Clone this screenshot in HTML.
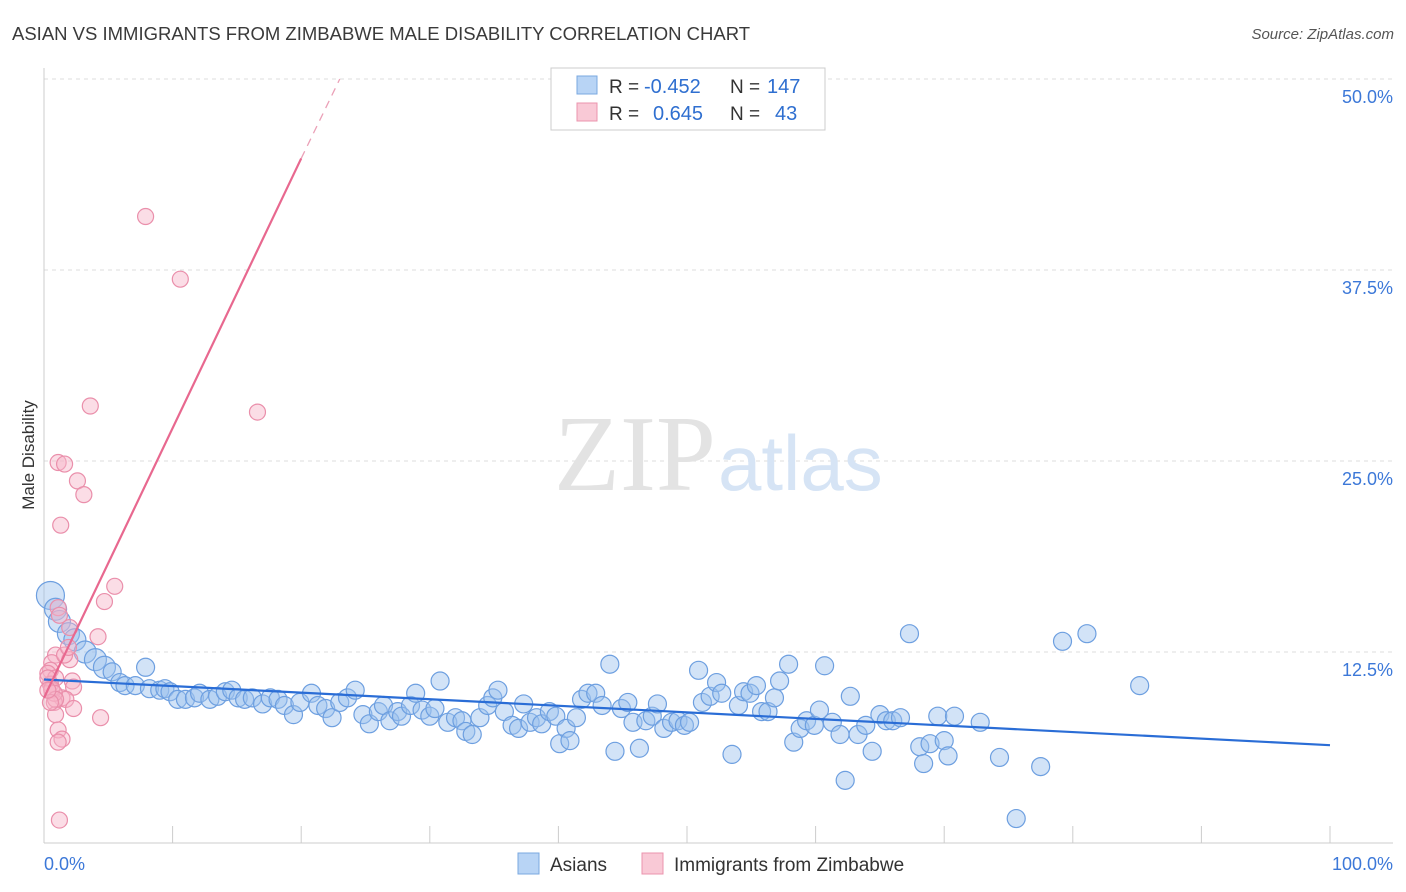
<!DOCTYPE html>
<html><head><meta charset="utf-8"><style>
body{margin:0;background:#fff;font-family:"Liberation Sans",sans-serif;}
svg{display:block}
</style></head><body>
<svg width="1406" height="892">
<text x="12" y="40" font-size="18.5" fill="#3a3a3a">ASIAN VS IMMIGRANTS FROM ZIMBABWE MALE DISABILITY CORRELATION CHART</text>
<text x="1394" y="39" font-size="15" fill="#555" font-style="italic" text-anchor="end">Source: ZipAtlas.com</text>
<g id="grid"></g>
<text x="716" y="490" font-size="108" fill="#e3e3e3" font-family="Liberation Serif,serif" text-anchor="end">ZIP</text>
<text x="718" y="490" font-size="78" fill="#d6e4f5">atlas</text>
<text x="34" y="455" font-size="17" fill="#333" transform="rotate(-90 34 455)" text-anchor="middle">Male Disability</text>
<g id="marks"></g>
<g>
<rect x="551" y="68" width="274" height="62" fill="#fff" stroke="#ccc"/>
<rect x="577" y="76" width="20" height="18" fill="#b8d4f5" stroke="#7aa8e0"/>
<rect x="577" y="103" width="20" height="18" fill="#f9c9d6" stroke="#eb94ae"/>
<text x="609" y="93" font-size="19" fill="#333">R =</text>
<text x="644" y="93" font-size="20" fill="#2f6fd0">-0.452</text>
<text x="730" y="93" font-size="19" fill="#333">N =</text>
<text x="767" y="93" font-size="20" fill="#2f6fd0">147</text>
<text x="609" y="120" font-size="19" fill="#333">R =</text>
<text x="653" y="120" font-size="20" fill="#2f6fd0">0.645</text>
<text x="730" y="120" font-size="19" fill="#333">N =</text>
<text x="775" y="120" font-size="20" fill="#2f6fd0">43</text>
</g>
<g>
<rect x="518" y="853" width="21" height="21" fill="#b8d4f5" stroke="#7aa8e0"/>
<text x="550" y="871" font-size="19" fill="#333">Asians</text>
<rect x="642" y="853" width="21" height="21" fill="#f9c9d6" stroke="#eb94ae"/>
<text x="674" y="871" font-size="19" fill="#333">Immigrants from Zimbabwe</text>
</g>
</svg>
<script>
const xTicks=[0,10,20,30,40,50,60,70,80,90,100];
const yTicks=[12.5,25,37.5,50];
const yTickLabels=["12.5%","25.0%","37.5%","50.0%"];
const asianPoints=[[0.5,16.2],[0.9,15.3],[1.2,14.5],[1.9,13.7],[2.4,13.3],[3.2,12.5],[4.0,12.0],[4.7,11.5],[5.3,11.2],[5.9,10.5],[6.3,10.3],[7.1,10.3],[7.9,11.5],[8.2,10.1],[9.0,10.0],[9.4,10.1],[9.8,9.9],[10.4,9.4],[11.0,9.4],[11.7,9.5],[12.1,9.8],[12.9,9.4],[13.5,9.6],[14.1,9.9],[14.6,10.0],[15.1,9.5],[15.6,9.4],[16.2,9.5],[17.0,9.1],[17.6,9.5],[18.2,9.4],[18.7,9.0],[19.4,8.4],[19.9,9.2],[20.8,9.8],[21.3,9.0],[21.9,8.8],[22.4,8.2],[23.0,9.2],[23.6,9.5],[24.2,10.0],[24.8,8.4],[25.3,7.8],[26.0,8.6],[26.4,9.0],[26.9,8.0],[27.5,8.6],[27.8,8.3],[28.5,9.0],[28.9,9.8],[29.4,8.7],[30.0,8.3],[30.4,8.8],[30.8,10.6],[31.4,7.9],[32.0,8.2],[32.5,8.0],[32.8,7.3],[33.3,7.1],[33.9,8.2],[34.5,9.0],[34.9,9.5],[35.3,10.0],[35.8,8.6],[36.4,7.7],[36.9,7.5],[37.3,9.1],[37.8,7.9],[38.3,8.2],[38.7,7.8],[39.3,8.6],[39.8,8.3],[40.1,6.5],[40.6,7.5],[40.9,6.7],[41.4,8.2],[41.8,9.4],[42.3,9.8],[42.9,9.8],[43.4,9.0],[44.0,11.7],[44.4,6.0],[44.9,8.8],[45.4,9.2],[45.8,7.9],[46.3,6.2],[46.8,8.0],[47.3,8.3],[47.7,9.1],[48.2,7.5],[48.8,7.9],[49.3,8.0],[49.8,7.7],[50.2,7.9],[50.9,11.3],[51.2,9.2],[51.8,9.6],[52.3,10.5],[52.7,9.8],[53.5,5.8],[54.0,9.0],[54.4,9.9],[54.9,9.8],[55.4,10.3],[55.8,8.6],[56.3,8.6],[56.8,9.5],[57.2,10.6],[57.9,11.7],[58.3,6.6],[58.8,7.5],[59.3,8.0],[59.9,7.7],[60.3,8.7],[60.7,11.6],[61.3,7.9],[61.9,7.1],[62.7,9.6],[63.3,7.1],[63.9,7.7],[64.4,6.0],[65.0,8.4],[65.5,8.0],[66.0,8.0],[66.6,8.2],[67.3,13.7],[68.1,6.3],[68.4,5.2],[68.9,6.5],[69.5,8.3],[70.0,6.7],[70.3,5.7],[70.8,8.3],[72.8,7.9],[74.3,5.6],[75.6,1.6],[77.5,5.0],[79.2,13.2],[81.1,13.7],[85.2,10.3],[62.3,4.1]];
const zimX=[7.9,10.6,3.6,16.6,1.1,1.6,2.6,3.1,1.3,5.5,4.7,1.1,1.2,4.2,2,0.9,0.6,0.5,0.3,0.9,0.5,0.6,2.2,2.3,1.4,1.7,0.8,0.9,2.3,4.4,1.1,1.4,1.2,0.3,0.6,2,1.6,0.8,0.9,1.1,0.5,0.3,1.9];
const zimY=[41,36.9,28.6,28.2,24.9,24.8,23.7,22.8,20.8,16.8,15.8,15.4,14.9,13.5,14.1,12.3,11.8,11.3,11.1,10.8,10.4,10,10.6,10.2,9.5,9.4,9.2,8.4,8.8,8.2,7.4,6.8,1.5,10.8,10.1,12,12.3,9.8,9.4,6.6,9.2,10,12.8];
const X=v=>44+v*12.86, Y=v=>843-v*15.28;
const NS="http://www.w3.org/2000/svg";
function mk(t,a,p){const e=document.createElementNS(NS,t);for(const k in a)e.setAttribute(k,a[k]);p.appendChild(e);return e;}
const gridG=document.getElementById('grid'), marksG=document.getElementById('marks');
yTicks.forEach((v,i)=>{
 const l=mk('line',{x1:44,x2:1393,y1:Y(v),y2:Y(v),stroke:'#ddd','stroke-dasharray':'4,4'},gridG);
 
 
 const t=mk('text',{x:1393,y:Y(v)+24,'font-size':18,fill:'#3c78d8','text-anchor':'end'},gridG);
 t.textContent=yTickLabels[i];
 
 
});
const ya=mk('line',{x1:44,x2:44,y1:68,y2:843,stroke:'#ccc'},gridG);


const xa=mk('line',{x1:44,x2:1393,y1:843,y2:843,stroke:'#ccc'},gridG);


xTicks.forEach(v=>{const t=mk('line',{x1:X(v),x2:X(v),y1:826,y2:843,stroke:'#ccc'},gridG);
 
 });
[['0.0%',44,'start'],['100.0%',1393,'end']].forEach(a=>{const t=mk('text',{x:a[1],y:870,'font-size':18,fill:'#3c78d8','text-anchor':a[2]},gridG);t.textContent=a[0];
 
 });
asianPoints.forEach((p,i)=>{const r=i==0?14:i<8?11:9;
 const c=mk('circle',{cx:X(p[0]),cy:Y(p[1]),r:r,fill:'rgba(155,192,238,0.45)',stroke:'#6d9fe0','stroke-width':1.2},marksG);
 
 });
zimX.forEach((x,i)=>{
 const c=mk('circle',{cx:X(x),cy:Y(zimY[i]),r:8,fill:'rgba(246,180,200,0.45)',stroke:'#ea8fab','stroke-width':1.2},marksG);
 
 });
const bt=mk('line',{x1:X(0),y1:Y(10.7),x2:X(100),y2:Y(6.4),stroke:'#2a6dd6','stroke-width':2.2},marksG);


const pt=mk('line',{x1:X(0),y1:Y(9.5),x2:X(20),y2:Y(44.8),stroke:'#e8688f','stroke-width':2.2},marksG);


const pd=mk('line',{x1:X(20),y1:Y(44.8),x2:X(23),y2:Y(50),stroke:'#eba0b7','stroke-width':1.3,'stroke-dasharray':'8,6'},marksG);


</script>
</body></html>
